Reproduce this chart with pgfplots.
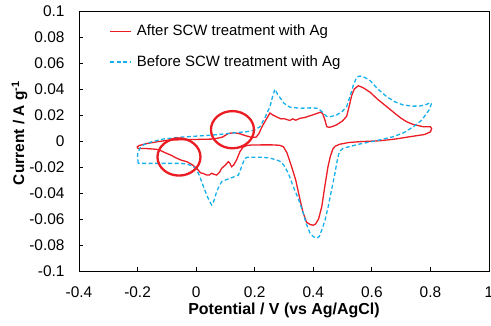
\documentclass[border=0pt]{standalone}
\usepackage{pgfplots}
\pgfplotsset{compat=1.18}
\usepackage{fontspec}
\setmainfont{Liberation Sans}
\definecolor{cvred}{RGB}{235,28,36}
\definecolor{cvblue}{RGB}{20,176,236}
\begin{document}
\begin{tikzpicture}
\useasboundingbox (-79bp,-55bp) rectangle (412bp,271bp);
\begin{axis}[
  scale only axis, width=410bp, height=260bp,
  xmin=-0.4, xmax=1, ymin=-0.1, ymax=0.1,
  xtick={-0.4,-0.2,0,0.2,0.4,0.6,0.8,1},
  ytick={-0.1,-0.08,-0.06,-0.04,-0.02,0,0.02,0.04,0.06,0.08,0.1},
  xticklabels={-0.4,-0.2,0,0.2,0.4,0.6,0.8,1},
  yticklabels={-0.1,-0.08,-0.06,-0.04,-0.02,0,0.02,0.04,0.06,0.08,0.1},
  tick align=inside, xtick pos=bottom, ytick pos=left,
  major tick length=4bp,
  axis line style={line width=0.9bp},
  tick style={line width=0.8bp, black},
  ticklabel style={font=\fontsize{15.5}{18}\selectfont},
  xticklabel style={anchor=base, yshift=-26bp},
  yticklabel style={anchor=east, xshift=-11bp},
  xlabel={\textbf{Potential / V (vs Ag/AgCl)}},
  ylabel={\textbf{Current / A g\textsuperscript{-1}}},
  every axis x label/.style={at={(axis description cs:0.5,-0.169)}, anchor=base, font=\fontsize{16}{19}\selectfont},
  every axis y label/.style={at={(axis description cs:-0.145,0.53)}, anchor=center, rotate=90, font=\fontsize{15.5}{18}\selectfont},
  legend cell align=left,
  legend style={at={(axis description cs:0.067,0.962)}, anchor=north west, draw=none, fill=none,
    font=\fontsize{15}{18}\selectfont, row sep=14.5bp, column sep=3bp},
  legend image code/.code={\draw[#1] (0bp,0bp) -- (21bp,0bp);},
]
\addplot[cvred, line width=1.3bp] coordinates {
(-0.200,-0.0058)(-0.201,-0.0045)(-0.195,-0.0035)(-0.17,-0.002)(-0.13,-0.0005)(-0.10,0.0005)(-0.05,0.001)(0.00,0.0012)(0.06,0.0015)(0.09,0.003)(0.11,0.0058)(0.13,0.0064)(0.15,0.0055)(0.17,0.004)(0.19,0.0028)(0.205,0.003)(0.215,0.006)(0.225,0.011)(0.24,0.017)(0.252,0.0215)(0.262,0.020)(0.275,0.0185)(0.29,0.017)(0.30,0.0172)(0.31,0.0165)(0.32,0.0158)(0.33,0.017)(0.34,0.016)(0.355,0.0175)(0.37,0.018)(0.39,0.0195)(0.41,0.021)(0.425,0.0222)(0.432,0.021)(0.44,0.016)(0.446,0.011)(0.455,0.0105)(0.47,0.0115)(0.48,0.0125)(0.50,0.0155)(0.514,0.019)(0.524,0.028)(0.531,0.035)(0.54,0.040)(0.554,0.0425)(0.57,0.041)(0.594,0.0375)(0.62,0.032)(0.651,0.0264)(0.68,0.021)(0.70,0.0175)(0.719,0.0148)(0.74,0.0128)(0.775,0.011)(0.80,0.011)(0.804,0.0095)(0.80,0.007)(0.78,0.005)(0.73,0.0033)(0.68,0.0015)(0.628,0.0002)(0.56,-0.0005)(0.52,-0.0012)(0.49,-0.0025)(0.475,-0.004)(0.467,-0.006)(0.458,-0.012)(0.45,-0.020)(0.44,-0.034)(0.429,-0.0505)(0.418,-0.060)(0.408,-0.0638)(0.40,-0.0648)(0.39,-0.0643)(0.377,-0.0625)(0.365,-0.055)(0.355,-0.0454)(0.34,-0.030)(0.326,-0.0198)(0.31,-0.009)(0.298,-0.0044)(0.285,-0.0033)(0.26,-0.003)(0.22,-0.003)(0.19,-0.0031)(0.173,-0.0034)(0.16,-0.0048)(0.15,-0.008)(0.138,-0.0146)(0.128,-0.0185)(0.121,-0.0198)(0.115,-0.017)(0.110,-0.0159)(0.10,-0.0185)(0.087,-0.021)(0.08,-0.024)(0.07,-0.0262)(0.06,-0.0255)(0.053,-0.0248)(0.045,-0.0262)(0.036,-0.0262)(0.025,-0.025)(0.015,-0.0245)(0.002,-0.021)(-0.015,-0.018)(-0.032,-0.0159)(-0.05,-0.0148)(-0.066,-0.0133)(-0.085,-0.011)(-0.101,-0.0095)(-0.12,-0.0075)(-0.135,-0.0064)(-0.17,-0.0058)(-0.200,-0.0058)
};
\addlegendentry{After SCW treatment with Ag}
\addplot[cvblue, line width=1.3bp, dash pattern=on 4bp off 2.5bp] coordinates {
(-0.198,-0.0172)(-0.200,-0.012)(-0.199,-0.0085)(-0.19,-0.005)(-0.18,-0.003)(-0.15,-0.0005)(-0.113,0.0015)(-0.05,0.003)(0.058,0.0046)(0.12,0.006)(0.173,0.0072)(0.20,0.0085)(0.218,0.011)(0.235,0.018)(0.252,0.0264)(0.262,0.035)(0.269,0.0398)(0.278,0.036)(0.286,0.0335)(0.30,0.029)(0.32,0.026)(0.355,0.0252)(0.39,0.0255)(0.412,0.0252)(0.425,0.0235)(0.434,0.0215)(0.445,0.019)(0.455,0.0185)(0.48,0.02)(0.50,0.023)(0.514,0.0264)(0.525,0.034)(0.537,0.0431)(0.548,0.049)(0.559,0.050)(0.575,0.049)(0.594,0.0465)(0.62,0.040)(0.651,0.0341)(0.68,0.030)(0.707,0.0277)(0.74,0.0268)(0.764,0.0269)(0.785,0.028)(0.80,0.0295)(0.803,0.0285)(0.796,0.024)(0.787,0.0213)(0.77,0.016)(0.742,0.011)(0.71,0.0065)(0.673,0.0033)(0.62,0.0005)(0.559,-0.0023)(0.52,-0.0045)(0.502,-0.0056)(0.49,-0.008)(0.486,-0.0108)(0.48,-0.017)(0.474,-0.0248)(0.462,-0.038)(0.451,-0.0505)(0.44,-0.061)(0.429,-0.0685)(0.42,-0.0735)(0.412,-0.0748)(0.40,-0.0735)(0.389,-0.071)(0.375,-0.063)(0.366,-0.0556)(0.35,-0.045)(0.332,-0.0352)(0.315,-0.025)(0.303,-0.0198)(0.29,-0.016)(0.275,-0.0146)(0.25,-0.013)(0.218,-0.0125)(0.173,-0.0125)(0.165,-0.014)(0.158,-0.018)(0.15,-0.023)(0.144,-0.0262)(0.13,-0.0275)(0.116,-0.0287)(0.10,-0.030)(0.087,-0.0313)(0.078,-0.035)(0.07,-0.039)(0.06,-0.0465)(0.053,-0.0492)(0.045,-0.046)(0.036,-0.0415)(0.025,-0.035)(0.019,-0.0313)(0.01,-0.026)(0.002,-0.0223)(-0.01,-0.0195)(-0.021,-0.0185)(-0.04,-0.0175)(-0.055,-0.0172)(-0.1,-0.0172)(-0.15,-0.0172)(-0.198,-0.0172)
};
\addlegendentry{Before SCW treatment with Ag}
\draw[cvred, line width=2.3bp] (axis cs:-0.0586,-0.0123) ellipse [x radius=21.5bp, y radius=18.6bp];
\draw[cvred, line width=2.3bp] (axis cs:0.124,0.0087) ellipse [x radius=21.5bp, y radius=18.6bp];
\end{axis}
\end{tikzpicture}
\end{document}
